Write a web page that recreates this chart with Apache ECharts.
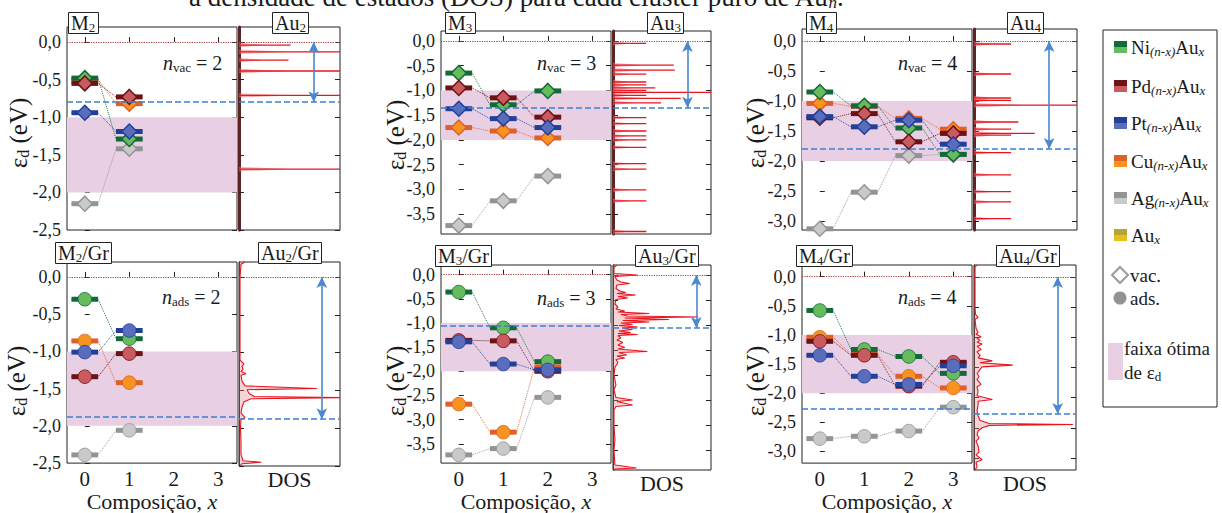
<!DOCTYPE html>
<html><head><meta charset="utf-8"><title>epsilon d</title>
<script src="https://cdn.jsdelivr.net/npm/echarts@6.0.0/dist/echarts.min.js"></script>
<style>html,body{margin:0;padding:0;background:#fff;}#chart{width:1222px;height:513px;}</style>
</head><body><div id="chart"></div><script>
// ================= DATA =================
const compositions = [0, 1, 2, 3];
const yTicks2 = [-2.5, -2, -1.5, -1, -0.5, 0];
const yTicks3 = [-3.5, -3, -2.5, -2, -1.5, -1, -0.5, 0];
const yTicks4 = [-3, -2.5, -2, -1.5, -1, -0.5, 0];
const optimalBand = [-1.0, -2.0];
const fermiLevel = 0;

// M2 (vacancy)
const m2vacNi = [-0.48, -1.29];
const m2vacPd = [-0.55, -0.73];
const m2vacPt = [-0.94, -1.19];
const m2vacCu = [-0.50, -0.82];
const m2vacAg = [-2.15, -1.42];
// M3 (vacancy)
const m3vacNi = [-0.65, -1.29, -1.01];
const m3vacPd = [-0.95, -1.15, -1.54];
const m3vacPt = [-1.37, -1.57, -1.75];
const m3vacCu = [-1.75, -1.82, -1.96];
const m3vacAg = [-3.73, -3.23, -2.73];
// M4 (vacancy)
const m4vacNi = [-0.85, -1.08, -1.45, -1.89];
const m4vacPd = [-1.28, -1.21, -1.68, -1.54];
const m4vacPt = [-1.26, -1.43, -1.32, -1.72];
const m4vacCu = [-1.04, -1.09, -1.29, -1.47];
const m4vacAg = [-3.13, -2.52, -1.91, -1.89];
// M2/Gr (adsorbed)
const m2adsNi = [-0.30, -0.83];
const m2adsPd = [-1.34, -1.03];
const m2adsPt = [-1.01, -0.72];
const m2adsCu = [-0.86, -1.42];
const m2adsAg = [-2.39, -2.06];
// M3/Gr (adsorbed)
const m3adsNi = [-0.36, -1.10, -1.80];
const m3adsPd = [-1.36, -1.37, -2.00];
const m3adsPt = [-1.39, -1.85, -1.97];
const m3adsCu = [-2.68, -3.26, -1.91];
const m3adsAg = [-3.73, -3.60, -2.54];
// M4/Gr (adsorbed)
const m4adsNi = [-0.58, -1.25, -1.37, -1.66];
const m4adsPd = [-1.11, -1.35, -1.88, -1.47];
const m4adsPt = [-1.35, -1.71, -1.85, -1.53];
const m4adsCu = [-1.04, -1.33, -1.71, -1.91];
const m4adsAg = [-2.78, -2.74, -2.65, -2.24];

// d-band centre of pure Au clusters (blue dashed lines)
const auVacEd = [-0.80, -1.35, -1.80];
const auAdsEd = [-1.88, -1.06, -2.27];

// DOS of pure Au clusters: [energy (eV), DOS (fraction of panel width, 1 = reaches the border)]
const dosAu2 = [[-0.04,0.51],[-0.13,1.0],[-0.24,0.49],[-0.385,1.0],[-0.71,1.0],[-1.69,1.0]];
const dosAu3 = [[-0.05,0.34],[-0.49,0.62],[-0.59,0.63],[-0.67,0.34],[-0.83,0.34],[-0.89,0.34],[-0.95,0.43],[-1.0,0.34],[-1.04,1.0],[-1.1,0.34],[-1.16,0.69],[-1.25,0.49],[-1.55,0.34],[-1.67,0.34],[-1.82,0.34],[-1.92,0.34],[-2.0,0.34],[-2.15,0.34],[-2.48,0.34],[-2.59,0.34],[-3.01,0.34],[-3.23,0.34],[-3.85,0.34]];
const dosAu4 = [[-0.05,0.36],[-0.55,0.36],[-0.95,0.36],[-0.99,0.36],[-1.07,1.0],[-1.35,0.43],[-1.47,0.36],[-1.54,0.59],[-1.57,0.36],[-1.86,0.36],[-2.23,0.36],[-2.51,0.36],[-2.68,0.36],[-2.96,0.36]];
const dosAu2Gr = [[0.2,0.06],[0.17,0.02],[0.0,0.01],[-0.5,0.01],[-1.1,0.01],[-1.15,0.05],[-1.18,0.03],[-1.22,0.04],[-1.25,0.02],[-1.28,0.07],[-1.3,0.02],[-1.38,0.03],[-1.44,0.06],[-1.475,0.77],[-1.49,0.08],[-1.54,0.1],[-1.58,0.15],[-1.595,1.0],[-1.61,0.12],[-1.65,0.05],[-1.72,0.03],[-1.8,0.02],[-1.86,0.06],[-1.88,0.02],[-2.0,0.015],[-2.2,0.02],[-2.35,0.02],[-2.43,0.04],[-2.45,0.22],[-2.47,0.03],[-2.5,0.01]];
const dosAu3Gr = [[0.2,0.04],[0.15,0.01],[0.03,0.01],[0.0,0.25],[-0.03,0.02],[-0.1,0.04],[-0.14,0.08],[-0.17,0.17],[-0.2,0.04],[-0.27,0.03],[-0.32,0.07],[-0.35,0.13],[-0.37,0.04],[-0.4,0.23],[-0.43,0.05],[-0.46,0.15],[-0.49,0.03],[-0.58,0.02],[-0.64,0.05],[-0.68,0.03],[-0.72,0.12],[-0.74,0.05],[-0.77,0.37],[-0.79,0.08],[-0.82,0.15],[-0.84,0.87],[-0.86,0.12],[-0.89,0.57],[-0.91,0.1],[-0.94,0.37],[-0.96,0.08],[-0.99,0.2],[-1.01,0.06],[-1.04,0.25],[-1.06,0.1],[-1.09,0.2],[-1.12,0.06],[-1.15,0.18],[-1.17,0.05],[-1.19,0.25],[-1.21,0.05],[-1.26,0.08],[-1.3,0.04],[-1.35,0.1],[-1.4,0.05],[-1.45,0.12],[-1.48,0.05],[-1.53,0.35],[-1.55,0.06],[-1.6,0.14],[-1.62,0.04],[-1.66,0.12],[-1.69,0.03],[-1.75,0.05],[-1.85,0.02],[-2.0,0.01],[-2.2,0.03],[-2.3,0.01],[-2.45,0.03],[-2.5,0.2],[-2.53,0.04],[-2.6,0.2],[-2.63,0.03],[-2.7,0.01],[-3.0,0.01],[-3.3,0.02],[-3.5,0.01],[-3.8,0.02],[-3.86,0.24],[-3.88,0.02],[-3.9,0.01]];
const dosAu4Gr = [[0.2,0.03],[0.17,0.01],[-0.5,0.01],[-0.62,0.015],[-0.67,0.04],[-0.7,0.01],[-0.85,0.02],[-0.92,0.04],[-0.95,0.02],[-0.99,0.07],[-1.02,0.03],[-1.05,0.06],[-1.08,0.03],[-1.11,0.08],[-1.15,0.03],[-1.2,0.07],[-1.24,0.03],[-1.3,0.06],[-1.34,0.04],[-1.39,0.18],[-1.42,0.06],[-1.46,0.38],[-1.49,0.08],[-1.53,0.06],[-1.6,0.03],[-1.65,0.05],[-1.7,0.03],[-1.78,0.07],[-1.82,0.03],[-1.9,0.04],[-1.97,0.03],[-2.03,0.18],[-2.06,0.04],[-2.12,0.04],[-2.22,0.03],[-2.3,0.04],[-2.38,0.06],[-2.43,0.15],[-2.445,0.97],[-2.46,0.15],[-2.5,0.08],[-2.55,0.04],[-2.62,0.03],[-2.67,0.05],[-2.72,0.02],[-2.8,0.04],[-2.9,0.05],[-2.95,0.02],[-3.03,0.08],[-3.07,0.02],[-3.15,0.03],[-3.2,0.01]];

// texts
const mainLabels = ['{a|M}{s|2}','{a|M}{s|3}','{a|M}{s|4}','{a|M}{s|2}{a|/Gr}','{a|M}{s|3}{a|/Gr}','{a|M}{s|4}{a|/Gr}'];
const dosLabels = ['{a|Au}{s|2}','{a|Au}{s|3}','{a|Au}{s|4}','{a|Au}{s|2}{a|/Gr}','{a|Au}{s|3}{a|/Gr}','{a|Au}{s|4}{a|/Gr}'];
const nLabels = ['{i|n}{s|vac}{a| = 2}','{i|n}{s|vac}{a| = 3}','{i|n}{s|vac}{a| = 4}','{i|n}{s|ads}{a| = 2}','{i|n}{s|ads}{a| = 3}','{i|n}{s|ads}{a| = 4}'];
const legendLabels = ['{a|Ni}{s|(n-x)}{a|Au}{s|x}','{a|Pd}{s|(n-x)}{a|Au}{s|x}','{a|Pt}{s|(n-x)}{a|Au}{s|x}','{a|Cu}{s|(n-x)}{a|Au}{s|x}','{a|Ag}{s|(n-x)}{a|Au}{s|x}','{a|Au}{s|x}'];
const captionText = '{a|a densidade de estados (DOS) para cada cluster puro de Au}{s|n}{a|.}';

// ================= STYLE / LAYOUT =================
const SERIF = 'Liberation Serif';
const INK = '#1a1a1a';
const dark = {Ni:'#136a38', Pd:'#6d1215', Pt:'#22409a', Cu:'#df6029', Ag:'#949494', Au:'#b4a634'};
const light = {Ni:'#66bc5c', Pd:'#c85a60', Pt:'#5a6cbc', Cu:'#f7941f', Ag:'#c9c9c9', Au:'#e8bf1e'};
const drawOrder = ['Ag','Cu','Ni','Pd','Pt'];
const legendOrder = ['Ni','Pd','Pt','Cu','Ag','Au'];

const panels = [
  {L:67,  R:237, T:27,  B:230, D:340,  yMin:-2.5,  ticks:yTicks2, row:0, arrowX:0.74, lab:[68,11,272,11,163,52],  yname:[18,133],
   data:{Ni:m2vacNi,Pd:m2vacPd,Pt:m2vacPt,Cu:m2vacCu,Ag:m2vacAg}, ed:auVacEd[0], dos:dosAu2, spikes:true},
  {L:441, R:611, T:31,  B:234, D:711,  yMin:-3.9,  ticks:yTicks3, row:0, arrowX:0.76, lab:[445,11,647,11,537,52], yname:[395,135],
   data:{Ni:m3vacNi,Pd:m3vacPd,Pt:m3vacPt,Cu:m3vacCu,Ag:m3vacAg}, ed:auVacEd[1], dos:dosAu3, spikes:true},
  {L:802, R:972, T:29,  B:230, D:1077, yMin:-3.15, ticks:yTicks4, row:0, arrowX:0.73, lab:[806,11,1007,11,898,52], yname:[755,133],
   data:{Ni:m4vacNi,Pd:m4vacPd,Pt:m4vacPt,Cu:m4vacCu,Ag:m4vacAg}, ed:auVacEd[2], dos:dosAu4, spikes:true},
  {L:67,  R:237, T:262, B:466, D:340,  yMin:-2.5,  ticks:yTicks2, row:1, arrowX:0.82, lab:[55,241,258,241,162,286], yname:[16,381],
   data:{Ni:m2adsNi,Pd:m2adsPd,Pt:m2adsPt,Cu:m2adsCu,Ag:m2adsAg}, ed:auAdsEd[0], dos:dosAu2Gr, spikes:false},
  {L:441, R:611, T:265, B:470, D:711,  yMin:-3.9,  ticks:yTicks3, row:1, arrowX:0.85, lab:[435,244,635,244,537,287], yname:[395,381],
   data:{Ni:m3adsNi,Pd:m3adsPd,Pt:m3adsPt,Cu:m3adsCu,Ag:m3adsAg}, ed:auAdsEd[1], dos:dosAu3Gr, spikes:false},
  {L:802, R:972, T:265, B:470, D:1076, yMin:-3.2,  ticks:yTicks4, row:1, arrowX:0.82, lab:[796,244,996,244,898,286], yname:[755,381],
   data:{Ni:m4adsNi,Pd:m4adsPd,Pt:m4adsPt,Cu:m4adsCu,Ag:m4adsAg}, ed:auAdsEd[2], dos:dosAu4Gr, spikes:false}
];
const Y_MAX = 0.2;

const ecRich = {
  a:{fontFamily:SERIF, fontSize:20, lineHeight:22, verticalAlign:'middle', color:INK},
  i:{fontFamily:SERIF, fontSize:20, lineHeight:22, verticalAlign:'middle', color:INK, fontStyle:'italic'},
  s:{fontFamily:SERIF, fontSize:13, lineHeight:10, verticalAlign:'bottom', color:INK}
};
function zrRich(big, small, italicSub) {
  const sub = Math.round(small*0.75);
  return {
    a:{font:big+'px '+SERIF, fontFamily:SERIF, fontSize:big, lineHeight:big+2, verticalAlign:'middle', fill:INK},
    e:{font:big+'px '+SERIF, fontFamily:SERIF, fontSize:big, lineHeight:big+2, verticalAlign:'middle', fill:INK},
    s:{font:(italicSub?'italic ':'')+small+'px '+SERIF, fontFamily:SERIF, fontSize:small, lineHeight:sub, verticalAlign:'bottom', fill:INK, fontStyle: italicSub ? 'italic' : 'normal'}
  };
}

const grid = [], xAxis = [], yAxis = [], series = [], title = [], graphic = [];

panels.forEach((P, i) => {
  const bottomRow = P.row === 1;
  const gMain = 2*i, gDos = 2*i+1;
  grid.push({left:P.L, top:P.T, width:P.R-P.L, height:P.B-P.T, show:true, borderColor:'#222', borderWidth:1, backgroundColor:'rgba(0,0,0,0)'});
  grid.push({left:P.R+2, top:P.T, width:P.D-P.R-2, height:P.B-P.T, show:true, borderColor:'#222', borderWidth:1, backgroundColor:'rgba(0,0,0,0)'});

  xAxis.push({gridIndex:gMain, type:'value', min:-0.4, max:3.42, splitLine:{show:false},
    axisLine:{show:false},
    axisTick:{show:true, inside:true, length:5, customValues:compositions, lineStyle:{color:'#222'}},
    axisLabel:{show:bottomRow, customValues:compositions, fontFamily:SERIF, fontSize:21, color:INK, margin:5},
    name: bottomRow ? '{t|Composição, }{x|x}' : '', nameLocation:'middle', nameGap:25,
    nameTextStyle:{rich:{t:{fontFamily:SERIF, fontSize:22, color:INK}, x:{fontFamily:SERIF, fontSize:22, color:INK, fontStyle:'italic'}}}
  });
  xAxis.push({gridIndex:gDos, type:'value', min:0, max:1, splitLine:{show:false},
    axisLine:{show:false}, axisTick:{show:false}, axisLabel:{show:false},
    name: bottomRow ? 'DOS' : '', nameLocation:'middle', nameGap:2,
    nameTextStyle:{fontFamily:SERIF, fontSize:22, color:INK}
  });

  const yb = {type:'value', min:P.yMin, max:Y_MAX, splitLine:{show:false}, axisLine:{show:false}};
  const tick = {show:true, inside:true, length:5, customValues:P.ticks, lineStyle:{color:'#222'}};
  yAxis.push(Object.assign({}, yb, {gridIndex:gMain, position:'left', axisTick:tick,
    axisLabel:{customValues:P.ticks, formatter:v => v.toFixed(1).replace('.', ','), fontFamily:SERIF, fontSize:18, color:INK, margin:6}}));
  yAxis.push(Object.assign({}, yb, {gridIndex:gMain, position:'right', axisTick:tick, axisLabel:{show:false}}));
  yAxis.push(Object.assign({}, yb, {gridIndex:gDos, position:'left',
    axisLine:{show:true, lineStyle:{color: bottomRow ? '#111' : '#5e2424', width: bottomRow ? 1 : 3}},
    axisTick:tick, axisLabel:{show:false}}));
  yAxis.push(Object.assign({}, yb, {gridIndex:gDos, position:'right', axisTick:tick, axisLabel:{show:false}}));

  const yMainIdx = 4*i, yDosIdx = 4*i+2;

  // optimal band
  series.push({type:'line', xAxisIndex:gMain, yAxisIndex:yMainIdx, data:[], z:1, silent:true,
    markArea:{silent:true, itemStyle:{color:'#e8cfe4'}, data:[[{yAxis:optimalBand[0]},{yAxis:optimalBand[1]}]]}});
  // reference lines on main plot
  const refLines = [
    {yAxis:fermiLevel, lineStyle:{color:'#a63b3d', type:'dotted', width:1.2}},
    {yAxis:P.ed, lineStyle:{color:'#3d80d3', type:'dashed', width:1.5}}
  ];
  series.push({type:'line', xAxisIndex:gMain, yAxisIndex:yMainIdx, data:[], z:2, silent:true,
    markLine:{silent:true, symbol:['none','none'], label:{show:false}, data:refLines}});

  // connectors
  drawOrder.forEach(m => {
    const vals = P.data[m];
    const pts = [];
    vals.forEach((v, k) => { pts.push([compositions[k]-0.3, v]); pts.push([compositions[k]+0.3, v]); });
    series.push({type:'line', xAxisIndex:gMain, yAxisIndex:yMainIdx, data:pts, z:3, silent:true,
      symbol:'none', lineStyle:{color:dark[m], width:1, type:'dotted', opacity:0.9}});
  });
  // levels + markers
  const diamond = !bottomRow;
  drawOrder.forEach(m => {
    const vals = P.data[m];
    series.push({type:'custom', xAxisIndex:gMain, yAxisIndex:yMainIdx, z:4, silent:true,
      data: vals.map((v, k) => [compositions[k], v]),
      renderItem(params, api) {
        const x = api.value(0), y = api.value(1);
        const a = api.coord([x-0.3, y]), b = api.coord([x+0.3, y]), c = api.coord([x, y]);
        const kids = [{type:'line', shape:{x1:a[0], y1:a[1], x2:b[0], y2:b[1]}, style:{stroke:dark[m], lineWidth:5}}];
        if (diamond) {
          const r = 7.5;
          kids.push({type:'polygon', shape:{points:[[c[0],c[1]-r],[c[0]+r,c[1]],[c[0],c[1]+r],[c[0]-r,c[1]]]},
            style:{fill:light[m], stroke:dark[m], lineWidth:1.5}});
        } else {
          kids.push({type:'circle', shape:{cx:c[0], cy:c[1], r:6.8}, style:{fill:light[m], stroke:dark[m], lineWidth:0.8}});
        }
        return {type:'group', children:kids};
      }});
  });

  // DOS
  if (P.spikes) {
    series.push({type:'custom', xAxisIndex:gDos, yAxisIndex:yDosIdx, z:3, silent:true, clip:true,
      data: P.dos.map(d => [d[1], d[0]]),
      renderItem(params, api) {
        const h = api.value(0), e = api.value(1);
        const p0 = api.coord([0, e]), p1 = api.coord([h, e]);
        const len = p1[0] - p0[0];
        return {type:'group', children:[
          {type:'polygon', shape:{points:[[p0[0], p0[1]-2.2],[p0[0]+len*0.45, p0[1]-0.3],[p0[0]+len*0.45, p0[1]+0.3],[p0[0], p0[1]+2.2]]}, style:{fill:'rgba(240,110,120,0.55)'}},
          {type:'line', shape:{x1:p0[0], y1:p0[1], x2:p1[0], y2:p1[1]}, style:{stroke:'#e8141e', lineWidth:1.3}}
        ]};
      }});
  } else {
    const pts = P.dos;
    series.push({type:'custom', xAxisIndex:gDos, yAxisIndex:yDosIdx, z:2, silent:true,
      data: pts.map(d => [d[1], d[0]]),
      renderItem(params, api) {
        if (params.dataIndex !== 0) return null;
        const poly = [api.coord([0, pts[0][0]])];
        pts.forEach(d => poly.push(api.coord([d[1], d[0]])));
        poly.push(api.coord([0, pts[pts.length-1][0]]));
        return {type:'polygon', shape:{points:poly}, style:{fill:'rgba(236,130,135,0.35)'}};
      }});
    series.push({type:'line', xAxisIndex:gDos, yAxisIndex:yDosIdx, z:3, silent:true, clip:true,
      data: pts.map(d => [d[1], d[0]]), symbol:'none', lineStyle:{color:'#e8141e', width:1.1}});
  }
  series.push({type:'line', xAxisIndex:gDos, yAxisIndex:yDosIdx, data:[], z:4, silent:true,
    markLine:{silent:true, symbol:['none','none'], label:{show:false}, data:[
      {yAxis:fermiLevel, lineStyle:{color:'#a63b3d', type:'dotted', width:1.2}},
      {yAxis:P.ed, lineStyle:{color:'#3d80d3', type:'dashed', width:1.5}},
      [{coord:[P.arrowX, fermiLevel], symbol:'arrow', symbolSize:[8,11], lineStyle:{color:'#4a88cf', width:1.6, type:'solid'}},
       {coord:[P.arrowX, P.ed], symbol:'arrow', symbolSize:[8,11]}]
    ]}});

  // labels
  const box = {padding:[1,3,0,3], borderColor:'#222', borderWidth:1, backgroundColor:'#fff', textStyle:{fontWeight:'normal', rich:ecRich}};
  title.push(Object.assign({}, box, {text:mainLabels[i], left:P.lab[0], top:P.lab[1]}));
  title.push(Object.assign({}, box, {text:dosLabels[i], left:P.lab[2], top:P.lab[3]}));
  title.push({text:nLabels[i], left:P.lab[4], top:P.lab[5], padding:0, textStyle:{fontWeight:'normal', rich:ecRich}});

  graphic.push({type:'text', x:P.yname[0], y:P.yname[1], rotation:Math.PI/2, z:10,
    style:{text:'{e|ε}{s|d}{a| (eV)}', rich:zrRich(25, 16, false), align:'center', verticalAlign:'middle'}});
});

// top caption (cut by the top edge, as in the original figure)
graphic.push({type:'text', x:516, y:11, z:10, style:{text:captionText,
  rich:zrRich(27, 17, true), align:'center', verticalAlign:'bottom', fill:'#333'}});

// legend box
const legendY = [47, 86, 123, 161, 198, 235];
graphic.push({type:'rect', z:10, shape:{x:1103, y:30, width:114, height:377}, style:{fill:'#fff', stroke:'#222', lineWidth:1}});
legendOrder.forEach((m, k) => {
  const y = legendY[k];
  graphic.push({type:'rect', z:11, shape:{x:1114, y:y-6, width:13, height:6}, style:{fill:dark[m]}});
  graphic.push({type:'rect', z:11, shape:{x:1114, y:y, width:13, height:6}, style:{fill:light[m]}});
  graphic.push({type:'text', z:11, x:1131, y:y, style:{text:legendLabels[k], rich:zrRich(19, 13, true), align:'left', verticalAlign:'middle'}});
});
graphic.push({type:'polygon', z:11, shape:{points:[[1120,267],[1128,275],[1120,283],[1112,275]]}, style:{fill:'#fff', stroke:'#9a9a9a', lineWidth:2}});
graphic.push({type:'text', z:11, x:1130, y:275, style:{text:'vac.', font:'19px Liberation Serif', fontFamily:SERIF, fontSize:19, fill:INK, align:'left', verticalAlign:'middle'}});
graphic.push({type:'circle', z:11, shape:{cx:1120, cy:298, r:6.5}, style:{fill:'#929292'}});
graphic.push({type:'text', z:11, x:1130, y:298, style:{text:'ads.', font:'19px Liberation Serif', fontFamily:SERIF, fontSize:19, fill:INK, align:'left', verticalAlign:'middle'}});
graphic.push({type:'rect', z:11, shape:{x:1108, y:343, width:15, height:37}, style:{fill:'#e8cfe4'}});
graphic.push({type:'text', z:11, x:1124, y:348, style:{text:'faixa ótima', font:'19px Liberation Serif', fontFamily:SERIF, fontSize:19, fill:INK, align:'left', verticalAlign:'middle'}});
graphic.push({type:'text', z:11, x:1124, y:372, style:{text:'{a|de ε}{s|d}', rich:zrRich(19, 13, false), align:'left', verticalAlign:'middle'}});

const chart = echarts.init(document.getElementById('chart'), null, {renderer:'svg'});
chart.setOption({animation:false, backgroundColor:'#fff', grid, xAxis, yAxis, series, title, graphic});
</script></body></html>
